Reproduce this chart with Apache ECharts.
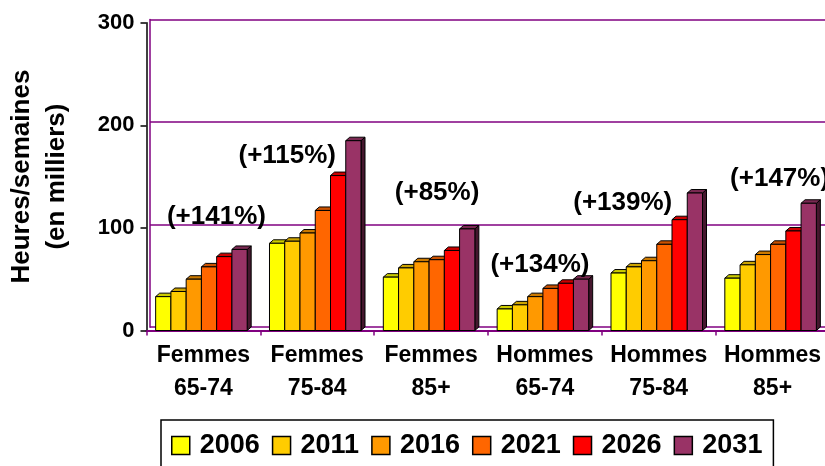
<!DOCTYPE html>
<html>
<head>
<meta charset="utf-8">
<script src="https://cdn.jsdelivr.net/npm/echarts@6/dist/echarts.min.js"></script>
<style>
  html, body { margin: 0; padding: 0; background: #fff; }
  #chart { width: 825px; height: 466px; }
</style>
</head>
<body>
<div id="chart"></div>
<script>
const categories = ['Femmes\n65-74', 'Femmes\n75-84', 'Femmes\n85+', 'Hommes\n65-74', 'Hommes\n75-84', 'Hommes\n85+'];
const years = ['2006', '2011', '2016', '2021', '2026', '2031'];

// one array per year, values per category (heures/semaines, en milliers)
const v2006 = [33, 85, 52, 21, 56, 51];
const v2011 = [38, 87, 61, 25, 62, 64];
const v2016 = [50, 95, 67, 33, 68, 74];
const v2021 = [62, 117, 69, 41, 84, 84];
const v2026 = [72, 151, 78, 46, 108, 97];
const v2031 = [79, 185, 99, 50, 134, 124];
const seriesValues = [v2006, v2011, v2016, v2021, v2026, v2031];

const growthLabels = ['(+141%)', '(+115%)', '(+85%)', '(+134%)', '(+139%)', '(+147%)'];
const growthLevels = [111, 170, 134, 64, 124, 148];
const growthShift = [13, -30, 6, -5, -36, 7];

const yTicks = [0, 100, 200, 300];

const colors = ['#FFFF00', '#FFCC00', '#FF9900', '#FF6600', '#FF0000', '#993366'];
const FONT = '"Liberation Sans", Arial, sans-serif';
const PURPLE = '#800080';

function shade(hex, f) {
    const n = parseInt(hex.slice(1), 16);
    const r = Math.round(((n >> 16) & 255) * f);
    const g = Math.round(((n >> 8) & 255) * f);
    const b = Math.round((n & 255) * f);
    return `rgb(${r},${g},${b})`;
}

// 3D bar: front face + top + right side, positioned with the axis scales
function renderBar(params, api) {
    const cat = api.value(0);
    const val = api.value(1);
    const base = api.coord([cat, 0]);
    const top = api.coord([cat, val]);
    const band = api.size([1, 0])[0];
    const bw = band * 0.134;
    const dx = 4, dy = 3.5;
    const x0 = base[0] - 3 * bw + params.seriesIndex * bw - 2;
    const x1 = x0 + bw;
    const c = colors[params.seriesIndex];
    const stroke = { stroke: '#000', lineWidth: 1 };
    return {
        type: 'group',
        children: [
            { type: 'polygon', shape: { points: [[x1, top[1]], [x1 + dx, top[1] - dy], [x1 + dx, base[1] - dy], [x1, base[1]]] },
              style: Object.assign({ fill: shade(c, 0.45) }, stroke) },
            { type: 'polygon', shape: { points: [[x0, top[1]], [x0 + dx, top[1] - dy], [x1 + dx, top[1] - dy], [x1, top[1]]] },
              style: Object.assign({ fill: shade(c, 0.8) }, stroke) },
            { type: 'rect', shape: { x: x0, y: top[1], width: bw, height: base[1] - top[1] },
              style: Object.assign({ fill: c }, stroke) }
        ]
    };
}

const barSeries = years.map((y, i) => ({
    name: y,
    type: 'custom',
    xAxisIndex: 0,
    yAxisIndex: 0,
    clip: false,
    itemStyle: { color: colors[i] },
    renderItem: renderBar,
    data: seriesValues[i].map((v, k) => [k, v]),
    z: 3 + i
}));

const labelSeries = {
    type: 'scatter',
    xAxisIndex: 0,
    yAxisIndex: 0,
    symbolSize: 0,
    silent: true,
    z: 20,
    itemStyle: { opacity: 1 },
    data: growthLabels.map((t, k) => ({
        value: [k, growthLevels[k]],
        label: {
            show: true,
            position: 'inside',
            offset: [growthShift[k], 0],
            formatter: t,
            fontFamily: FONT,
            fontWeight: 'bold',
            fontSize: 26,
            color: '#000',
            opacity: 1
        }
    }))
};

const chart = echarts.init(document.getElementById('chart'));
chart.setOption({
    animation: false,
    backgroundColor: '#fff',
    grid: [
        { left: 146.5, top: 22.7, width: 683, height: 307.8, outerBoundsMode: 'none', containLabel: false },
        { left: 150, top: 19.4, width: 683, height: 307.8, outerBoundsMode: 'none', containLabel: false }
    ],
    xAxis: [
        {
            type: 'category', gridIndex: 0, data: categories,
            axisLine: { lineStyle: { color: PURPLE, width: 2 } },
            axisTick: { show: true, length: 5, lineStyle: { color: PURPLE, width: 1.5 } },
            axisLabel: { fontFamily: FONT, fontWeight: 'bold', fontSize: 23, color: '#000', lineHeight: 33, margin: 9, interval: 0 },
            splitLine: { show: false }
        },
        { type: 'category', gridIndex: 1, data: categories, show: false }
    ],
    yAxis: [
        {
            type: 'value', gridIndex: 0, min: 0, max: 300, interval: 100,
            name: 'Heures/semaines\n(en milliers)',
            nameLocation: 'middle', nameGap: 72, nameRotate: 90,
            nameTextStyle: { fontFamily: FONT, fontWeight: 'bold', fontSize: 26, color: '#000', lineHeight: 35 },
            axisLine: { show: true, lineStyle: { color: '#000', width: 1.5 } },
            axisTick: { show: true, length: 6, lineStyle: { color: '#000', width: 1.5 } },
            axisLabel: { fontFamily: FONT, fontWeight: 'bold', fontSize: 22, color: '#000', margin: 12,
                         formatter: v => yTicks.includes(v) ? String(v) : '' },
            splitLine: { show: false }
        },
        {
            type: 'value', gridIndex: 1, min: 0, max: 300, interval: 100,
            axisLine: { show: true, lineStyle: { color: PURPLE, width: 1.5 } },
            axisTick: { show: false },
            axisLabel: { show: false },
            splitLine: { show: true, lineStyle: { color: PURPLE, width: 1.5 } }
        }
    ],
    legend: {
        data: years,
        left: 161,
        top: 420,
        icon: 'rect',
        itemWidth: 18,
        itemHeight: 18,
        itemGap: 12,
        padding: [12, 11, 14, 10],
        borderColor: '#000',
        borderWidth: 1.5,
        itemStyle: { borderColor: '#000', borderWidth: 1.5 },
        textStyle: { fontFamily: FONT, fontWeight: 'bold', fontSize: 27, color: '#000', padding: [0, 0, 0, 5] }
    },
    series: barSeries.concat([labelSeries])
});
</script>
</body>
</html>
